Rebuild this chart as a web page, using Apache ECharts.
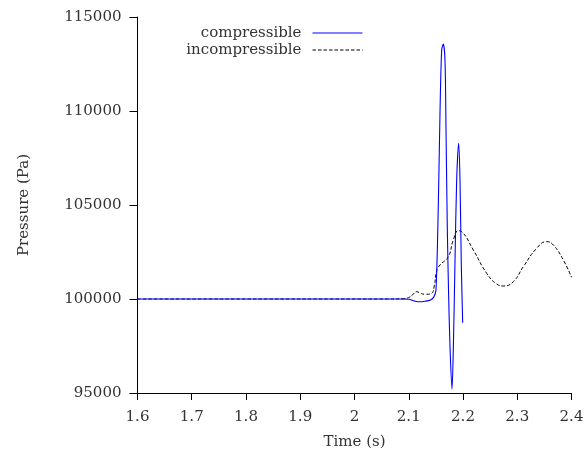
<!DOCTYPE html>
<html>
<head>
<meta charset="utf-8">
<script src="https://cdn.jsdelivr.net/npm/echarts@6/dist/echarts.min.js"></script>
<style>
html,body{margin:0;padding:0;background:#fff;}
#chart{width:587px;height:457px;}
</style>
</head>
<body>
<div id="chart"></div>
<script>
var seriesNames = ['compressible', 'incompressible'];
var xTitle = 'Time (s)';
var yTitle = 'Pressure (Pa)';

var compTime = [1.6, 2.08, 2.1, 2.11, 2.12, 2.13, 2.14, 2.146, 2.1502, 2.1545, 2.1576, 2.1607, 2.1637, 2.1668, 2.1687, 2.1711, 2.1736, 2.176, 2.1797, 2.1822, 2.1852, 2.1883, 2.192, 2.1945, 2.1969, 2.1994];
var compPressure = [100000, 100000, 99990, 99900, 99850, 99880, 99950, 100100, 100480, 105000, 109900, 113250, 113560, 112700, 109000, 103700, 100100, 97500, 95200, 97400, 101900, 106300, 108280, 106300, 101800, 98740];

var incompTime = [1.6, 2.06, 2.09, 2.1, 2.108, 2.1147, 2.12, 2.13, 2.142, 2.147, 2.1515, 2.1576, 2.1729, 2.1821, 2.1914, 2.1976, 2.219, 2.2437, 2.2621, 2.2743, 2.2927, 2.3112, 2.3358, 2.3543, 2.3665, 2.3849, 2.4];
var incompPressure = [100000, 100000, 100020, 100080, 100250, 100390, 100330, 100250, 100300, 100700, 101500, 101809, 102250, 103138, 103633, 103580, 102607, 101367, 100798, 100692, 100922, 101720, 102697, 103050, 102873, 102075, 101154];

function pairs(xs, ys) {
  return xs.map(function (x, i) { return [x, ys[i]]; });
}

var FONT = 'DejaVu Serif';
var TXT = '#333';

var chart = echarts.init(document.getElementById('chart'), null, {renderer: 'canvas'});
chart.setOption({
  animation: false,
  backgroundColor: '#fff',
  grid: {left: 137.5, right: 15.5, top: 17, bottom: 64, containLabel: false},
  legend: {
    orient: 'vertical',
    align: 'right',
    right: 224,
    top: 24.5,
    padding: 0,
    itemWidth: 50,
    itemHeight: 12,
    itemGap: 0,
    itemStyle: {opacity: 0},
    lineStyle: {width: 1},
    textStyle: {fontFamily: FONT, fontSize: 15, color: TXT, lineHeight: 17, padding: [0, 6, 0, 0]},
    data: seriesNames
  },
  xAxis: {
    type: 'value',
    min: 1.6, max: 2.4, interval: 0.1,
    name: xTitle, nameLocation: 'middle', nameGap: 42,
    nameTextStyle: {fontFamily: FONT, fontSize: 15, color: TXT},
    axisLine: {show: true, onZero: false, lineStyle: {color: '#000', width: 1}},
    axisTick: {show: true, inside: false, length: 7, lineStyle: {color: '#000'}},
    axisLabel: {fontFamily: FONT, fontSize: 15, color: TXT, margin: 17,
      formatter: function (v) { return String(parseFloat(v.toFixed(1))); }},
    splitLine: {show: false}
  },
  yAxis: {
    type: 'value',
    min: 95000, max: 115000, interval: 5000,
    name: yTitle, nameLocation: 'middle', nameGap: 106,
    nameTextStyle: {fontFamily: FONT, fontSize: 15, color: TXT},
    axisLine: {show: true, onZero: false, lineStyle: {color: '#000', width: 1}},
    axisTick: {show: true, inside: false, length: 8, lineStyle: {color: '#000'}},
    axisLabel: {fontFamily: FONT, fontSize: 15, color: TXT, margin: 16,
      formatter: function (v) { return String(Math.round(v)); }},
    splitLine: {show: false}
  },
  series: [
    {
      name: seriesNames[0], type: 'line', showSymbol: false, symbol: 'none',
      smooth: 0.3,
      data: pairs(compTime, compPressure),
      lineStyle: {color: '#0000ff', width: 1.1},
      itemStyle: {color: '#0000ff'},
      z: 3
    },
    {
      name: seriesNames[1], type: 'line', showSymbol: false, symbol: 'none',
      smooth: 0.5,
      data: pairs(incompTime, incompPressure),
      lineStyle: {color: '#000', width: 1, type: [3.5, 2]},
      itemStyle: {color: '#000'},
      z: 2
    }
  ]
});
</script>
</body>
</html>
